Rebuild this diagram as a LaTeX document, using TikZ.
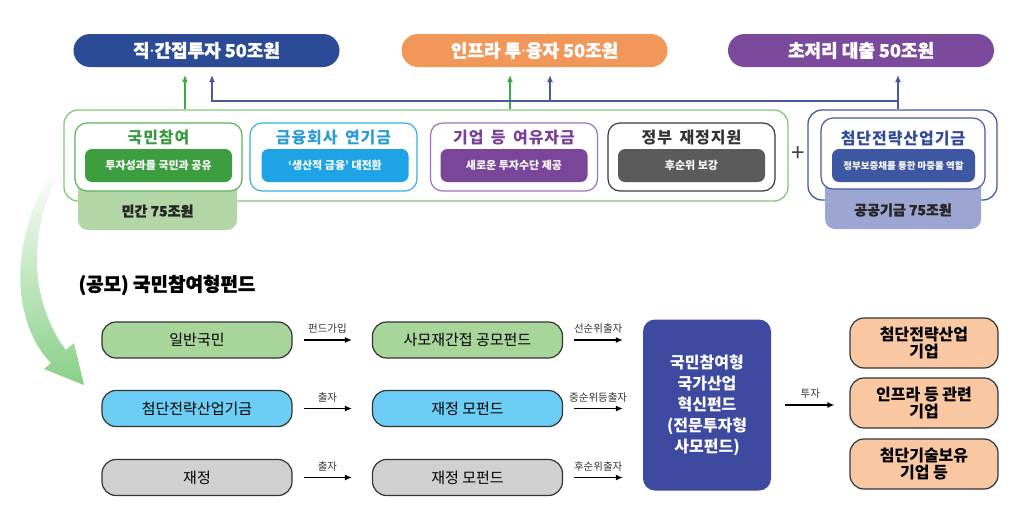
\documentclass[tikz,border=0pt]{standalone}
\usepackage{fontspec}
\setmainfont{Noto Sans CJK KR}
\newfontfamily\titlefont{Noto Sans CJK KR}[LetterSpace=6,WordSpace=1.6]
\newfontfamily\heavyfont{Noto Sans CJK KR}[BoldFeatures={FakeBold=1.2}]
\newfontfamily\latinfont{Noto Sans}
\usepackage{tikz}
\usetikzlibrary{arrows.meta}
\usepackage{xcolor}

\newcommand\mdot{{\latinfont\bfseries ·}}

\definecolor{pblue}{HTML}{2B4B96}
\definecolor{porange}{HTML}{F2975A}
\definecolor{ppurple}{HTML}{7C4A9D}
\definecolor{garrow}{HTML}{3DAA46}
\definecolor{barrow}{HTML}{4A5A9C}
\definecolor{boxgreen}{HTML}{86C676}
\definecolor{tabgreen}{HTML}{B2D6A5}
\definecolor{cgline}{HTML}{5DB15A}
\definecolor{cgtext}{HTML}{3A9A40}
\definecolor{cgbar}{HTML}{3D9E40}
\definecolor{ccline}{HTML}{3AAEE3}
\definecolor{cctext}{HTML}{2A9CD6}
\definecolor{ccbar}{HTML}{1EA4E6}
\definecolor{cpline}{HTML}{9C72B9}
\definecolor{cptext}{HTML}{7A3F96}
\definecolor{cpbar}{HTML}{7A4699}
\definecolor{ckline}{HTML}{3A3A3A}
\definecolor{cktext}{HTML}{333333}
\definecolor{ckbar}{HTML}{5B5B5B}
\definecolor{publine}{HTML}{4759A0}
\definecolor{pubtext}{HTML}{2F4A98}
\definecolor{pubbar}{HTML}{3E57A3}
\definecolor{tabblue}{HTML}{9DA5D2}
\definecolor{rgreen}{HTML}{A8D59A}
\definecolor{rblue}{HTML}{6CCEF5}
\definecolor{rgray}{HTML}{D0D0D0}
\definecolor{peach}{HTML}{F9C8A3}
\definecolor{coreblue}{HTML}{3E4AA0}
\definecolor{arrgreen}{HTML}{88CF86}

\tikzset{
  pill/.style={rounded corners=16.5pt, minimum width=266pt, minimum height=33pt, inner sep=0pt,
    text=white, font=\heavyfont\fontsize{18}{20}\selectfont\bfseries},
  catbox/.style={draw, line width=1.2pt, fill=white, rounded corners=12pt,
    minimum width=167pt, minimum height=68pt},
  cattitle/.style={inner sep=0pt, font=\titlefont\fontsize{16}{18}\selectfont\bfseries},
  catbar/.style={rounded corners=7pt, minimum width=147pt, minimum height=33pt, inner sep=0pt,
    text=white, font=\fontsize{11}{13}\selectfont\bfseries},
  sumtext/.style={font=\heavyfont\fontsize{14}{16}\selectfont\bfseries, text=black!85},
  garr/.style={draw=garrow, line width=1.2pt, -{Latex[length=7pt,width=6pt]}},
  barr/.style={draw=barrow, line width=1.2pt, -{Latex[length=7pt,width=6pt]}},
  rowbox/.style={draw=black!80, line width=1.2pt, rounded corners=14pt,
    minimum width=190pt, minimum height=36pt, font=\fontsize{15}{17}\selectfont},
  firm/.style={draw=black!80, line width=1.2pt, rounded corners=14pt, fill=peach, align=center,
    minimum width=148pt, minimum height=50pt, inner sep=0pt,
    font=\fontsize{16}{17}\selectfont\bfseries},
  arr/.style={draw=black, line width=1.2pt, -{Latex[length=7pt,width=6pt]},
    shorten <=11pt, shorten >=20pt},
  lbl/.style={above=5pt, inner sep=1pt, text=black!80, font=\fontsize{10.5}{12}\selectfont}
}

\begin{document}
\begin{tikzpicture}[x=1pt,y=-1pt]
\useasboundingbox (0,0) rectangle (1024,520);

\shade[top color=white, bottom color=arrgreen] (58,165) .. controls (30,200) and (15,255) .. (22,300)
  .. controls (27,330) and (38,350) .. (51,363) -- (44,369) -- (84,385) -- (74,343) -- (66,350)
  .. controls (52,333) and (38,300) .. (37,265) .. controls (36,225) and (48,188) .. (66,165) -- cycle;

\node[pill, fill=pblue] (direct) at (206.5,50.5) {직\mdot 간접투자 50조원};
\node[pill, fill=porange] (infra) at (534.5,50.5) {인프라 투\mdot 융자 50조원};
\node[pill, fill=ppurple] (loan) at (861,50.5) {초저리 대출 50조원};

\node[draw=boxgreen, line width=1.3pt, fill=white, rounded corners=14pt, minimum width=724pt, minimum height=91pt] (private) at (426,155.5) {};
\path[fill=tabgreen, rounded corners=10pt] (78,178) rectangle (237,230);
\node[sumtext] (privsum) at (157.5,211) {민간 75조원};

\node[catbox, draw=cgline] (citizen) at (158.5,157) {};
\node[cattitle, text=cgtext] (citizen-t) at (158.5,138) {국민참여};
\node[catbar, fill=cgbar] (citizen-b) at (158.5,165.5) {투자성과를 국민과 공유};

\node[catbox, draw=ccline] (finance) at (333.5,157) {};
\node[cattitle, text=cctext] (finance-t) at (333.5,138) {금융회사 연기금};
\node[catbar, fill=ccbar] (finance-b) at (335,165.5) {‘생산적 금융’ 대전환};

\node[catbox, draw=cpline] (corp) at (514,157) {};
\node[cattitle, text=cptext] (corp-t) at (514,138) {기업 등 여유자금};
\node[catbar, fill=cpbar] (corp-b) at (514,165.5) {새로운 투자수단 제공};

\node[catbox, draw=ckline] (gov) at (691.5,157) {};
\node[cattitle, text=cktext] (gov-t) at (691.5,138) {정부 재정지원};
\node[catbar, fill=ckbar] (gov-b) at (691.5,165.5) {후순위 보강};

\node[font=\fontsize{24}{24}\selectfont, text=black!75] (plus) at (798,154) {+};

\node[draw=publine, line width=1.3pt, fill=white, rounded corners=14pt, minimum width=189pt, minimum height=90pt] (public) at (902.5,155) {};
\path[fill=tabblue, rounded corners=10pt] (825,178) rectangle (981,229);
\node[sumtext] (pubsum) at (903,210) {공공기금 75조원};
\node[catbox, draw=publine, minimum width=164pt, minimum height=71pt] (fund) at (903,153.5) {};
\node[cattitle, text=pubtext] (fund-t) at (903,138) {첨단전략산업기금};
\node[catbar, fill=pubbar, minimum width=143pt, font=\fontsize{9.5}{11}\selectfont\bfseries] (fund-b) at (903.5,165.5) {정부보증채를 통한 마중물 역할};

\coordinate (g1) at (185,75);
\coordinate (g2) at (510,75);
\coordinate (b1) at (212,75);
\coordinate (b2) at (550,75);
\coordinate (b3) at (898,75);
\coordinate (bj) at (898,101);
\draw[garr] (private.north -| g1) -- (g1);
\draw[garr] (private.north -| g2) -- (g2);
\draw[draw=barrow, line width=1.2pt] (public.north -| bj) -- (bj);
\draw[barr] (bj) -| (b1);
\draw[barr] (bj -| b2) -- (b2);
\draw[barr] (bj) -- (b3);

\node[anchor=west, font=\heavyfont\fontsize{19}{21}\selectfont\bfseries] (fundtitle) at (75,285) {(공모) 국민참여형펀드};

\node[rowbox, fill=rgreen] (people) at (197,340) {일반국민};
\node[rowbox, fill=rblue] (strategic) at (197,408.5) {첨단전략산업기금};
\node[rowbox, fill=rgray] (budget) at (197,477.5) {재정};
\node[rowbox, fill=rgreen] (fof) at (467.5,340) {사모재간접 공모펀드};
\node[rowbox, fill=rblue] (mother1) at (467.5,408.5) {재정 모펀드};
\node[rowbox, fill=rgray] (mother2) at (467.5,477.5) {재정 모펀드};

\node[fill=coreblue, rounded corners=12pt, minimum width=128pt, minimum height=171pt, align=center, text=white,
  font=\fontsize{16}{21}\selectfont\bfseries] (core) at (707,405) {국민참여형\\국가산업\\혁신펀드\\(전문투자형\\사모펀드)};

\node[firm] (firm1) at (924,343) {첨단전략산업\\기업};
\node[firm] (firm2) at (924,403) {인프라 등 관련\\기업};
\node[firm] (firm3) at (924,464) {첨단기술보유\\기업 등};

\draw[arr] (people) -- node[lbl, pos=0.44] {펀드가입} (fof);
\draw[arr] (strategic) -- node[lbl, pos=0.44] {출자} (mother1);
\draw[arr] (budget) -- node[lbl, pos=0.44] {출자} (mother2);
\draw[arr] (fof.east) -- node[lbl, pos=0.44] {선순위출자} (fof.east -| core.west);
\draw[arr] (mother1.east) -- node[lbl, pos=0.44] {중순위등출자} (mother1.east -| core.west);
\draw[arr] (mother2.east) -- node[lbl, pos=0.44] {후순위출자} (mother2.east -| core.west);
\draw[arr, shorten <=14pt, shorten >=15pt] (core.east) -- node[lbl, pos=0.5] {투자} (core.east -| firm2.west);

\end{tikzpicture}
\end{document}
